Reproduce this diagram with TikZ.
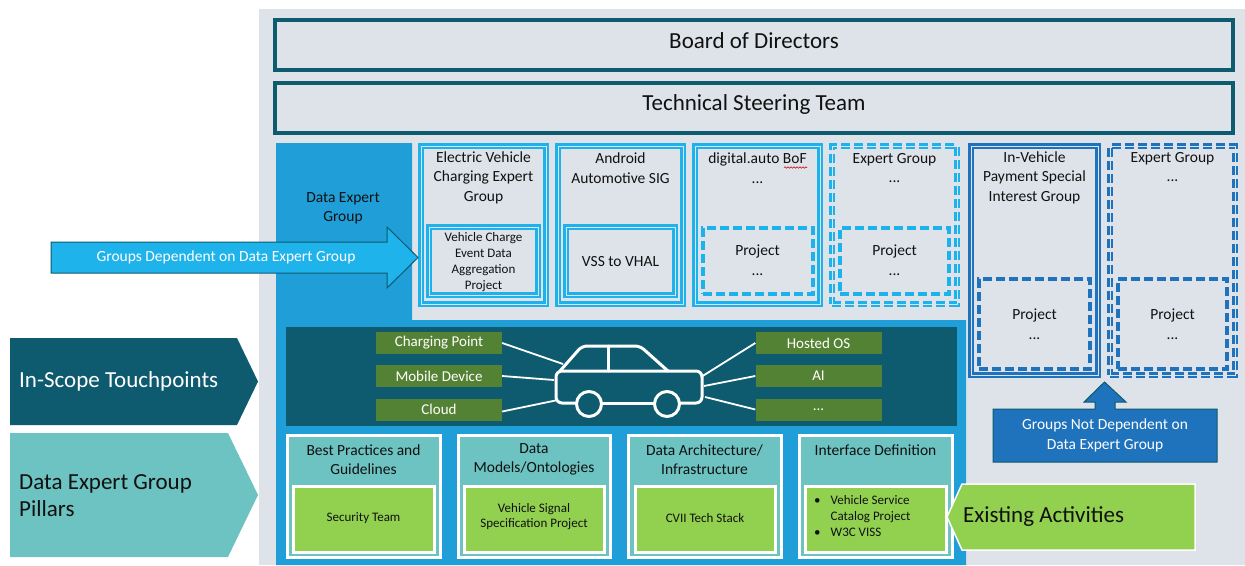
\documentclass[tikz,border=0pt]{standalone}
\usepackage{fontspec}
\setmainfont{Carlito}
\usetikzlibrary{decorations.pathmorphing}
\definecolor{bggray}{HTML}{DEE3EA}
\definecolor{darkteal}{HTML}{0E5A6E}
\definecolor{degblue}{HTML}{1F9ED7}
\definecolor{skyblue}{HTML}{1DB2EC}
\definecolor{arrowsky}{HTML}{1FB3EC}
\definecolor{midblue}{HTML}{1F72BC}
\definecolor{olivegreen}{HTML}{548235}
\definecolor{tealp}{HTML}{6CC3C1}
\definecolor{limegreen}{HTML}{92D050}
\definecolor{txt}{HTML}{111111}
\newcommand\boxat[6]{\node[#2, anchor=north west, minimum width={#5pt-#3pt}, minimum height={#6pt-#4pt}, inner sep=0pt, outer sep=0pt] (#1) at (#3,#4) {};}
\begin{document}
\begin{tikzpicture}[x=1pt,y=-1pt,
  t23/.style={font=\fontsize{23}{27}\selectfont, inner sep=0pt, text=txt},
  t15/.style={font=\fontsize{15.5}{19.5}\selectfont, align=center, inner sep=0pt, text=txt},
  t13/.style={font=\fontsize{13}{16}\selectfont, align=center, inner sep=0pt, text=txt},
  bodstyle/.style={draw=darkteal, line width=4pt},
  solidsky/.style={draw=skyblue, line width=2.2pt, double=bggray, double distance=0.8pt},
  dashsky/.style={solidsky, dash pattern=on 9pt off 4pt},
  innerdashsky/.style={draw=skyblue, line width=3.2pt, dash pattern=on 9pt off 4pt},
  solidmid/.style={draw=midblue, line width=2.2pt, double=bggray, double distance=0.8pt},
  dashmid/.style={solidmid, dash pattern=on 9pt off 4pt},
  innerdashmid/.style={draw=midblue, line width=3.2pt, dash pattern=on 9pt off 4pt},
  tpbox/.style={fill=olivegreen, text=white, font=\fontsize{15}{18}\selectfont, minimum width=126pt, minimum height=22pt, inner sep=0pt},
  tpline/.style={draw=white, line width=1.8pt},
  pillar/.style={fill=tealp, draw=white, line width=3pt},
  pgreen/.style={fill=limegreen, draw=white, line width=3pt},
  carline/.style={draw=white, line width=3pt, line join=round, line cap=round},
  arrowshape/.style={draw=darkteal, line width=1pt},
]
\fill[white] (0,0) rectangle (1245,565);
\useasboundingbox (0,0) rectangle (1245,565);
\fill[bggray] (259,9) rectangle (1245,565);

% Board and TST
\boxat{bod}{bodstyle}{275}{20}{1233}{70}
\node[t23] (bodt) at (754,41) {Board of Directors};
\boxat{tst}{bodstyle}{275}{83}{1233}{133}
\node[t23] (tstt) at (754,104) {Technical Steering Team};

% Data Expert Group column and lower panel
\fill[degblue] (276,143) -- (412,143) -- (412,320) -- (966,320) -- (966,565) -- (276,565) -- cycle;
\node[t15] (degt) at (343,208.5) {Data Expert\\Group};

% Dependent groups
\boxat{ev}{solidsky}{421}{146}{546}{304}
\node[t15] (evt) at (483.5,177.5) {Electric Vehicle\\Charging Expert\\Group};
\boxat{evin}{solidsky}{429}{227}{538}{295}
\node[t13] (evint) at (483.5,262) {Vehicle Charge\\Event Data\\Aggregation\\Project};

\boxat{and}{solidsky}{558}{146}{683}{304}
\node[t15] (andt) at (620.5,168) {Android\\Automotive SIG};
\boxat{andin}{solidsky}{566}{227}{675}{295}
\node[t15] (andint) at (620.5,262) {VSS to VHAL};

\boxat{dig}{solidsky}{695}{146}{820}{304}
\node[t15] (digt) at (757.5,168) {digital.auto BoF\\...};
\draw[red!80!black, line width=0.6pt, decorate, decoration={snake, amplitude=0.7pt, segment length=3pt}] (784,167.5) -- (807,167.5);
\boxat{digin}{innerdashsky}{703}{228}{813}{294}
\node[t15] (digint) at (757.5,260) {Project\\...};

\boxat{exa}{dashsky}{832}{146}{957}{304}
\node[t15] (exat) at (894.5,168) {Expert Group\\...};
\boxat{exain}{innerdashsky}{840}{228}{949}{294}
\node[t15] (exaint) at (894.5,260) {Project\\...};

% Independent groups
\boxat{ivp}{solidmid}{971}{146}{1098}{375}
\node[t15] (ivpt) at (1034.5,177.5) {In-Vehicle\\Payment Special\\Interest Group};
\boxat{ivpin}{innerdashmid}{979}{279}{1090}{369}
\node[t15] (ivpint) at (1034.5,324) {Project\\...};

\boxat{exb}{dashmid}{1110}{146}{1235}{375}
\node[t15] (exbt) at (1172.5,167) {Expert Group\\...};
\boxat{exbin}{innerdashmid}{1118}{279}{1227}{369}
\node[t15] (exbint) at (1172.5,324) {Project\\...};

% Arrow: groups dependent
\draw[arrowshape, fill=arrowsky] (51,242) -- (387,242) -- (387,227) -- (418,257.5) -- (387,288) -- (387,273) -- (51,273) -- cycle;
\node[t15, text=white] (dept) at (226,257.5) {Groups Dependent on Data Expert Group};

% Arrow: groups not dependent
\draw[arrowshape, fill=midblue] (1104.5,382) -- (1126,402) -- (1115,402) -- (1115,409) -- (1217,409) -- (1217,462) -- (993,462) -- (993,409) -- (1095,409) -- (1095,402) -- (1084,402) -- cycle;
\node[t15, text=white, font=\fontsize{15.5}{20}\selectfont] (ndept) at (1105,435.5) {Groups Not Dependent on\\Data Expert Group};

% Touchpoints panel
\fill[darkteal] (286,327) rectangle (957,426);
\node[tpbox] (cp) at (439,343) {Charging Point};
\node[tpbox] (md) at (439,376) {Mobile Device};
\node[tpbox] (cl) at (439,409.5) {Cloud};
\node[tpbox] (ho) at (818.5,343) {Hosted OS};
\node[tpbox] (ai) at (818.5,376) {AI};
\node[tpbox] (dt) at (818.5,409.5) {...};

% Car
\draw[carline, rounded corners=6pt] (576,403) -- (556,403) -- (556,371) -- (702,371) -- (702,403) -- (680,403);
\draw[carline] (602,403) -- (654,403);
\draw[carline, rounded corners=5pt] (560,371) -- (582,346) -- (640,346) -- (668,371);
\draw[carline] (608,346) -- (608,371);
\draw[carline, fill=darkteal] (589,404) circle (12.5pt);
\draw[carline, fill=darkteal] (667,404) circle (12.5pt);
\coordinate (carcp) at (563,364);
\coordinate (carmd) at (554,380);
\coordinate (carcl) at (558,400);
\coordinate (carho) at (701,377);
\coordinate (carai) at (704,386);
\coordinate (cardt) at (705,397);
\draw[tpline] (cp.east) -- (carcp);
\draw[tpline] (md.east) -- (carmd);
\draw[tpline] ([yshift=-2pt]cl.east) -- (carcl);
\draw[tpline] (ho.west) -- (carho);
\draw[tpline] (ai.west) -- (carai);
\draw[tpline] (dt.west) -- (cardt);

% Pillars
\boxat{p1}{pillar}{287}{435}{440}{557}
\boxat{p2}{pillar}{458}{435}{610}{557}
\boxat{p3}{pillar}{628}{435}{781}{557}
\boxat{p4}{pillar}{799}{435}{952}{557}
\node[t15, font=\fontsize{15.5}{19}\selectfont] (p1t) at (363.5,459.5) {Best Practices and\\Guidelines};
\node[t15, font=\fontsize{15.5}{19}\selectfont] (p2t) at (534,459.5) {Data\\Models/Ontologies};
\node[t15, font=\fontsize{15.5}{19}\selectfont] (p3t) at (704.5,459.5) {Data Architecture/\\Infrastructure};
\node[t15] (p4t) at (875.5,450) {Interface Definition};
\boxat{g1}{pgreen}{293}{486}{434}{552}
\boxat{g2}{pgreen}{464}{486}{604}{552}
\boxat{g3}{pgreen}{635}{486}{775}{552}
\boxat{g4}{pgreen}{805}{486}{946}{552}
\node[t13] (g1t) at (363.5,518) {Security Team};
\node[t13, font=\fontsize{13}{15}\selectfont] (g2t) at (534,517) {Vehicle Signal\\Specification Project};
\node[t13] (g3t) at (705,518) {CVII Tech Stack};
\node[t13, anchor=west, align=left] (g4t) at (814,517) {\begin{tabular}{@{}l@{\hspace{10pt}}l@{}}•&Vehicle Service\\&Catalog Project\\•&W3C VISS\end{tabular}};

% Left chevrons
\fill[darkteal] (10,338) -- (237,338) -- (258,381.5) -- (237,425) -- (10,425) -- cycle;
\node[t23, text=white, anchor=west] (ist) at (19,381.5) {In-Scope Touchpoints};
\fill[tealp] (10,433) -- (228,433) -- (258,495) -- (228,557) -- (10,557) -- cycle;
\node[t23, anchor=west, align=left] (degp) at (19,496) {Data Expert Group\\Pillars};

% Existing Activities
\draw[fill=limegreen, draw=white, line width=1.5pt] (947,517) -- (962,484) -- (1195,484) -- (1195,550) -- (962,550) -- cycle;
\node[t23, anchor=west] (exist) at (963,517) {Existing Activities};
\end{tikzpicture}
\end{document}
